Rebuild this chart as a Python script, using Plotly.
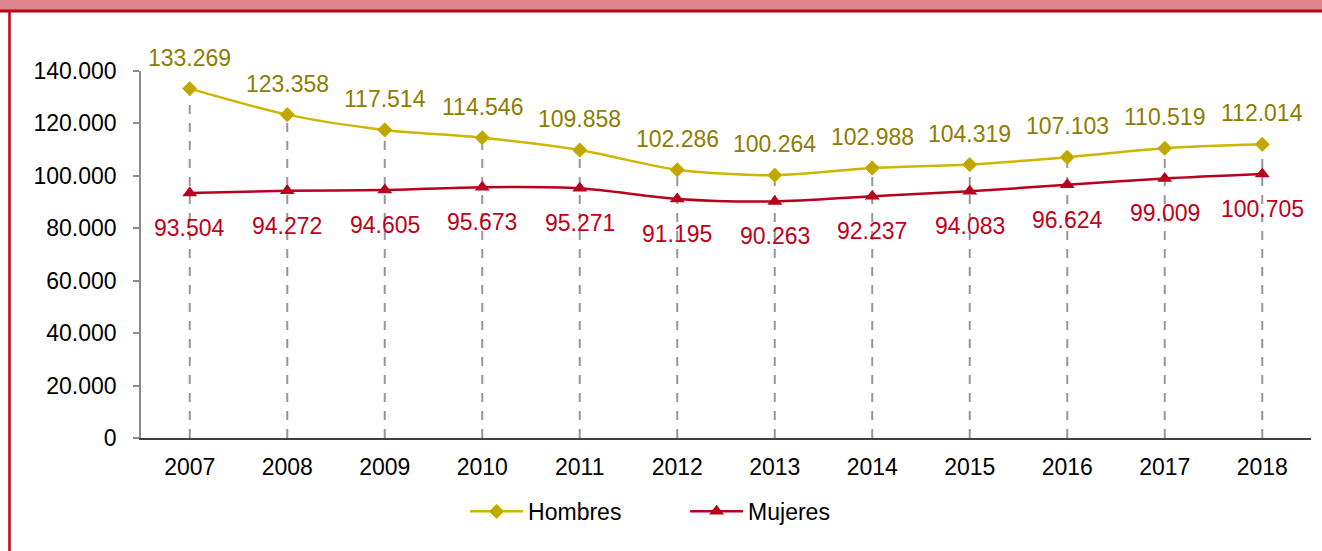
import plotly.graph_objects as go

years = ["2007", "2008", "2009", "2010", "2011", "2012", "2013", "2014", "2015", "2016", "2017", "2018"]
hombres = [133269, 123358, 117514, 114546, 109858, 102286, 100264, 102988, 104319, 107103, 110519, 112014]
mujeres = [93504, 94272, 94605, 95673, 95271, 91195, 90263, 92237, 94083, 96624, 99009, 100705]
y_ticks = [0, 20000, 40000, 60000, 80000, 100000, 120000, 140000]

FONT = "Liberation Sans, Arial, sans-serif"
GOLD_LINE = "#CDB500"
GOLD_MARK = "#BFA600"
GOLD_TEXT = "#8C7D00"
RED_LINE = "#B8001E"
RED_TEXT = "#C0001A"
BORDER = "#C0001E"


def fmt(v):
    return f"{v:,}".replace(",", ".")


fig = go.Figure()

# dashed drop lines from Hombres points to the axis
dx, dy = [], []
for yr, v in zip(years, hombres):
    dx += [yr, yr, None]
    dy += [0, v, None]
fig.add_trace(go.Scatter(x=dx, y=dy, mode="lines", showlegend=False, hoverinfo="skip",
                         line=dict(color="#969696", width=2, dash="dash")))

fig.add_trace(go.Scatter(x=years, y=hombres, name="Hombres", mode="lines+markers",
                         line=dict(color=GOLD_LINE, width=2.5, shape="spline", smoothing=0.8),
                         marker=dict(symbol="diamond", size=11, color=GOLD_MARK,
                                     line=dict(color=GOLD_LINE, width=1))))
fig.add_trace(go.Scatter(x=years, y=mujeres, name="Mujeres", mode="lines+markers",
                         line=dict(color=RED_LINE, width=2.5, shape="spline", smoothing=0.8),
                         marker=dict(symbol="triangle-up", size=13, color=RED_LINE)))

for i, v in enumerate(hombres):
    fig.add_annotation(x=i, y=v, text=fmt(v), showarrow=False, yshift=31,
                       font=dict(family=FONT, size=23, color=GOLD_TEXT))
for i, v in enumerate(mujeres):
    fig.add_annotation(x=i, y=v, text=fmt(v), showarrow=False, yshift=-35,
                       font=dict(family=FONT, size=23, color=RED_TEXT))

# header band and frame
fig.add_shape(type="rect", xref="paper", yref="paper", x0=-0.13, x1=1.02, y0=1.1662, y1=1.25,
              fillcolor="#DC858D", line=dict(width=0), layer="below")
fig.add_shape(type="line", xref="paper", yref="paper", x0=-0.13, x1=1.02, y0=1.1635, y1=1.1635,
              line=dict(color=BORDER, width=3))
fig.add_shape(type="line", xref="paper", yref="paper", x0=-0.1124, x1=-0.1124, y0=1.1662, y1=-0.32,
              line=dict(color=BORDER, width=2.5))

fig.update_layout(
    width=1322, height=551,
    margin=dict(l=141, r=11, t=71, b=113),
    paper_bgcolor="white", plot_bgcolor="white",
    separators=",.",
    font=dict(family=FONT, size=23, color="#000000"),
    showlegend=True,
    legend=dict(orientation="h", x=0.277, y=-0.2, xanchor="left", yanchor="middle",
                font=dict(family=FONT, size=23, color="#000000"), itemwidth=53,
                entrywidth=152, entrywidthmode="pixels", traceorder="normal"),
    xaxis=dict(type="category", range=[-0.5, 11.5], showgrid=False, showline=True,
               linecolor="#404040", linewidth=1.5, ticks="", ticklabelstandoff=8,
               tickfont=dict(family=FONT, size=23, color="#000000"), zeroline=False),
    yaxis=dict(range=[0, 140000], tickvals=y_ticks, tickformat=",d", showgrid=False,
               showline=True, linecolor="#8C8C8C", linewidth=1.5, ticks="outside",
               ticklen=6, tickcolor="#8C8C8C", tickwidth=1.5, ticklabelstandoff=12,
               zeroline=False, tickfont=dict(family=FONT, size=23, color="#000000")),
)

fig.write_html("out.html", config={"displayModeBar": False},
               post_script="document.body.style.margin='0';document.body.style.overflow='hidden';")
